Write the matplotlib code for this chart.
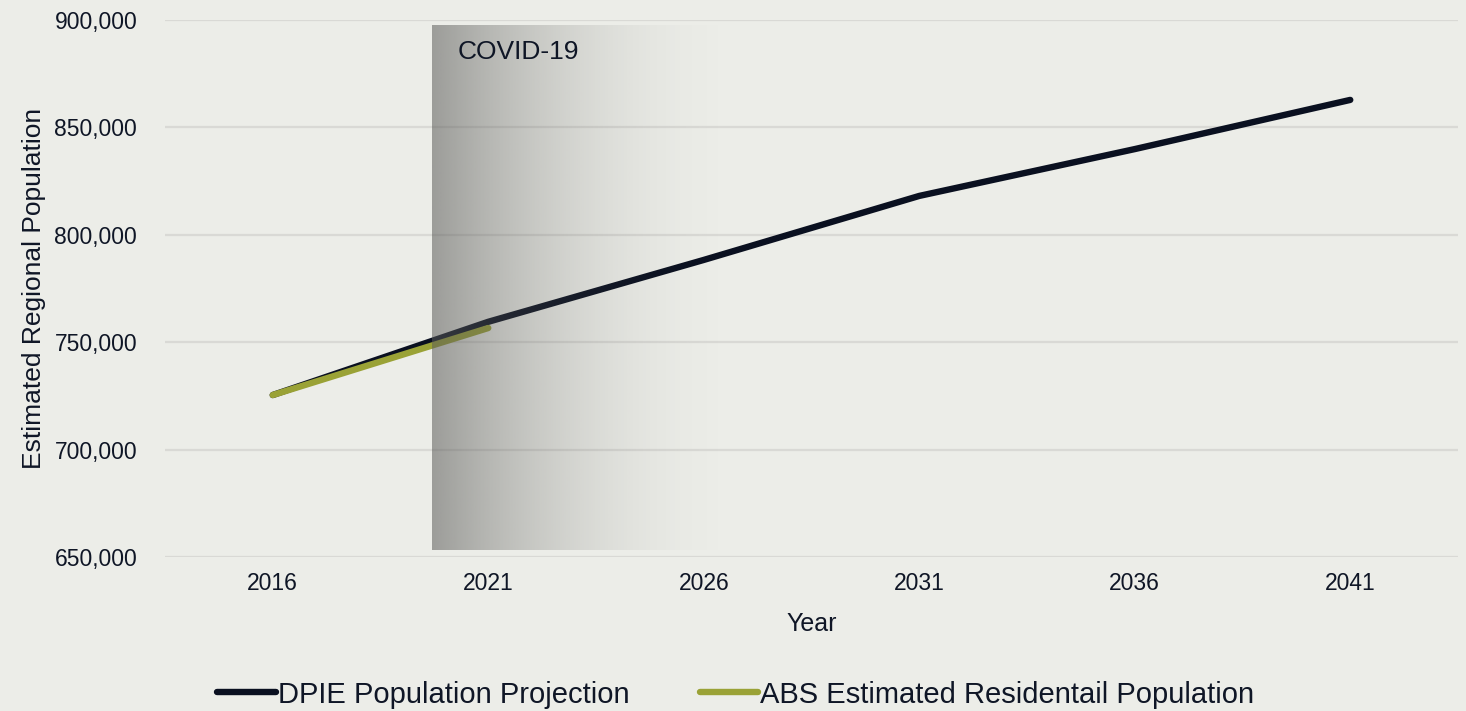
import numpy as np
import matplotlib
matplotlib.use("Agg")
import matplotlib.pyplot as plt
from matplotlib.ticker import FuncFormatter

years = ["2016", "2021", "2026", "2031", "2036", "2041"]
dpie_projection = [725400, 759500, 788300, 818100, 839900, 862800]
abs_erp_years = ["2016", "2021"]
abs_erp = [725400, 756600]
yticks = [650000, 700000, 750000, 800000, 850000, 900000]
covid_label = "COVID-19"

BG = "#ECEDE8"
TXT = "#0F1626"
NAVY = "#0A1020"
GREEN = "#9AA236"

plt.rcParams['font.family'] = ['Liberation Sans', 'DejaVu Sans']

fig = plt.figure(figsize=(14.66, 7.11), dpi=100, facecolor=BG)
ax = fig.add_axes([165/1466, (711-557)/711, (1458-165)/1466, (557-20)/711])
ax.set_facecolor(BG)

x = np.arange(len(years))
xa = [years.index(y) for y in abs_erp_years]

ax.plot(x, dpie_projection, color=NAVY, lw=4.6, solid_capstyle='round',
        label="DPIE Population Projection", zorder=3)
ax.plot(xa, abs_erp, color=GREEN, lw=4.6, solid_capstyle='round',
        label="ABS Estimated Residentail Population", zorder=4)

ax.set_xlim(-0.5, len(years) - 0.5)
ax.set_ylim(yticks[0], yticks[-1])
ax.set_yticks(yticks)
ax.yaxis.set_major_formatter(FuncFormatter(lambda v, p: f"{int(v):,}"))
ax.set_xticks(x)
ax.set_xticklabels(years)

ax.grid(axis='y', color='#D9D9D5', lw=1.6, zorder=1)
ax.set_axisbelow(True)
for s in ax.spines.values():
    s.set_visible(False)
ax.tick_params(axis='both', length=0, labelsize=16.5, colors=TXT)
ax.tick_params(axis='y', pad=20)
ax.tick_params(axis='x', pad=11)

ax.set_xlabel("Year", fontsize=18, color=TXT, labelpad=12)
ax.set_ylabel("Estimated Regional Population", fontsize=19, color=TXT, labelpad=6)

# COVID shading gradient (overlay)
x0 = (432 - 273) / 215.5
x1 = (745 - 273) / 215.5
y0, y1 = ax.get_ylim()
ybot = y0 + (557 - 550) / 537 * (y1 - y0)
ytop = y0 + (557 - 25) / 537 * (y1 - y0)
n = 400
t = np.linspace(0, 1, n)
alpha = 0.55 * (1 - t) ** 2
img = np.zeros((1, n, 4))
img[..., 0] = 90 / 255
img[..., 1] = 90 / 255
img[..., 2] = 88 / 255
img[0, :, 3] = alpha
ax.imshow(img, extent=[x0, x1, ybot, ytop], aspect='auto', zorder=5,
          interpolation='bilinear')
ax.set_xlim(-0.5, len(years) - 0.5)
ax.set_ylim(yticks[0], yticks[-1])
ax.text(x0 + (458 - 432) / 215.5, y0 + (557 - 52) / 537 * (y1 - y0), covid_label,
        fontsize=19, color=TXT, va='center', ha='left', zorder=6)

leg = fig.legend(loc='center', bbox_to_anchor=(0.502, 0.023), ncol=2, frameon=False,
                 fontsize=21, handlelength=2.0, handletextpad=0.08, columnspacing=2.4,
                 labelcolor=TXT)

fig.savefig("out.png", dpi=100, facecolor=BG)
